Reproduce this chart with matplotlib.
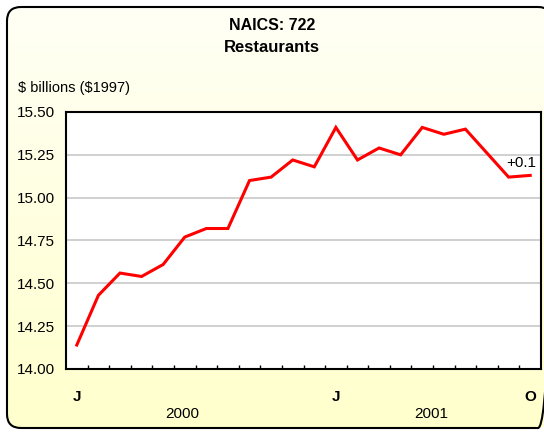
import numpy as np
import matplotlib.pyplot as plt
from matplotlib.patches import FancyBboxPatch

plt.rcParams['font.family'] = ['Liberation Sans', 'DejaVu Sans']

# monthly values, Jan 2000 - Oct 2001
values = [14.14, 14.43, 14.56, 14.54, 14.61, 14.77, 14.82, 14.82,
          15.10, 15.12, 15.22, 15.18, 15.41, 15.22, 15.29, 15.25,
          15.41, 15.37, 15.40, 15.26, 15.12, 15.13]
month_labels = {0: 'J', 12: 'J', 21: 'O'}
years = ['2000', '2001']
year_pos = [4.9, 16.4]
yticks = [14.00, 14.25, 14.50, 14.75, 15.00, 15.25, 15.50]

fig = plt.figure(figsize=(5.44, 4.32), dpi=100)

# background panel with yellow gradient and rounded border
bg = fig.add_axes([0, 0, 1, 1])
bg.set_xlim(0, 544)
bg.set_ylim(432, 0)
bg.axis('off')
grad = np.linspace(0, 1, 256).reshape(-1, 1)
cmap = plt.matplotlib.colors.LinearSegmentedColormap.from_list('bgy', ['#FFFFF6', '#FFFFCC'])
img = bg.imshow(grad, extent=[0, 544, 432, 0], cmap=cmap, aspect='auto')
box = FancyBboxPatch((7, 7), 545, 421, boxstyle='round,pad=0,rounding_size=14',
                     fc='none', ec='black', lw=1.5)
bg.add_patch(box)
img.set_clip_path(box)

ax = fig.add_axes([66 / 544, 1 - 369 / 432, 475 / 544, 257 / 432])
x = np.arange(len(values))
ax.plot(x, values, color='#FF0000', lw=2.2, solid_joinstyle='miter')
ax.set_xlim(-0.5, len(values) - 0.5)
ax.set_ylim(14.0, 15.5)
ax.set_facecolor('white')

ax.set_yticks(yticks)
ax.set_yticklabels([f'{v:.2f}' for v in yticks], fontsize=11)
ax.tick_params(axis='y', length=0, pad=8)
ax.grid(axis='y', color='#C8C8C8', lw=1.2)

ax.set_xticks(list(month_labels.keys()))
ax.set_xticklabels(list(month_labels.values()), fontsize=11, fontweight='bold')
ax.tick_params(axis='x', length=0, pad=15)
ax.set_xticks(np.arange(0.5, len(values) - 1, 1), minor=True)
ax.tick_params(axis='x', which='minor', direction='in', length=3, width=1)
for s in ax.spines.values():
    s.set_linewidth(1.5)

for yr, p in zip(years, year_pos):
    ax.text(p, -0.175, yr, transform=ax.get_xaxis_transform(), ha='center', va='center', fontsize=11)

ax.text(len(values) - 1.4, values[-1] + 0.03, '+0.1', ha='center', va='bottom', fontsize=11)

fig.text(0.5, 1 - 25 / 432, 'NAICS: 722', ha='center', va='center', fontsize=11.5, fontweight='bold')
fig.text(0.5, 1 - 48 / 432, 'Restaurants', ha='center', va='center', fontsize=12, fontweight='bold')
fig.text(18 / 544, 1 - 88 / 432, r'\$ billions (\$1997)', ha='left', va='center', fontsize=10.5)

fig.savefig('out.png', dpi=100)
